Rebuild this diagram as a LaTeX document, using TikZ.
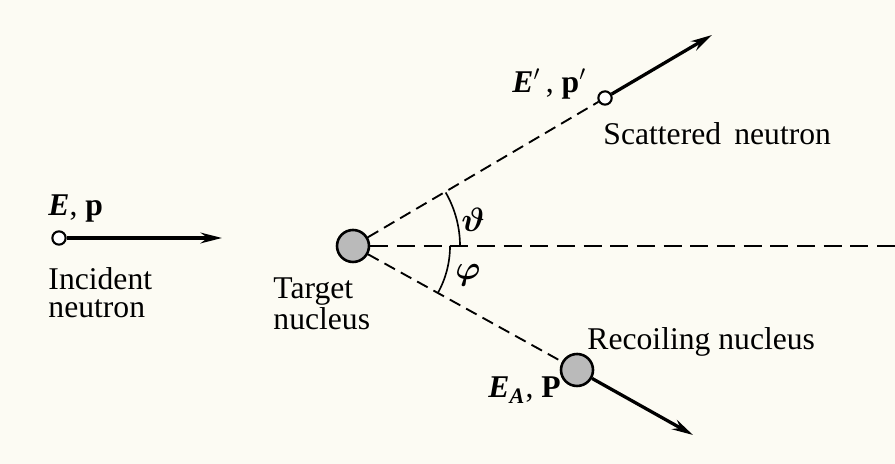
\documentclass[tikz,border=0pt]{standalone}
\usepackage{amsmath}
\usepackage{fontspec}
\setmainfont{Liberation Serif}
\usetikzlibrary{arrows.meta, positioning, calc}
\definecolor{paper}{RGB}{252,251,243}
\newcommand{\Ebf}{\textbf{\textit{E}}}

\begin{document}
\begin{tikzpicture}[x=0.015cm, y=0.015cm, >=Stealth,
    nucleus/.style={circle, draw, line width=1.1pt, fill=black!27,
                    minimum size=0.48cm, inner sep=0pt},
    neutron/.style={circle, draw, line width=0.9pt, fill=white,
                    minimum size=0.2cm, inner sep=0pt},
    track/.style={line width=1.4pt, -{Stealth[length=0.32cm, width=0.16cm]}},
    flight/.style={line width=0.8pt, dash pattern=on 0.18cm off 0.1cm},
    axisline/.style={line width=0.9pt, dash pattern=on 0.27cm off 0.13cm},
    lbl/.style={inner sep=0pt, font=\fontsize{13.5}{12}\selectfont}]
  \fill[paper] (0,0) rectangle (895,464);
  \useasboundingbox (0,0) rectangle (895,464);
  % particles
  \node[neutron] (inc) at (59,226) {};
  \node[nucleus] (tgt) at (353,218) {};
  \node[neutron] (sct) at (605,366) {};
  \node[nucleus] (rec) at (577,94) {};
  \coordinate (incTip) at (222,226);
  \coordinate (sctTip) at (712,429);
  \coordinate (recTip) at (693,29);
  \coordinate (far) at (895,218);
  % flight lines
  \draw[flight] (tgt) -- (sct);
  \draw[flight] (tgt) -- (rec);
  \draw[axisline] (tgt) -- (far);
  % momenta
  \draw[track] (inc) -- (incTip);
  \draw[track] (sct) -- (sctTip);
  \draw[track] (rec) -- (recTip);
  % angles
  \draw[line width=0.7pt] (tgt.center) ++(0:107) arc[start angle=0, end angle=30, radius=107];
  \draw[line width=0.7pt] (tgt.center) ++(-29:97) arc[start angle=-29, end angle=0, radius=97];
  \node[lbl] (theta) at (473,244) {$\boldsymbol{\vartheta}$};
  \node[lbl] (phi) at (468,189) {$\boldsymbol{\varphi}$};
  % labels
  \node[lbl, anchor=base west] (incE) at (48,248) {\Ebf, \textbf{p}};
  \node[lbl, anchor=north west, align=left] (incTxt) at (48,197) {Incident\\neutron};
  \node[lbl, anchor=north west, align=left] (tgtTxt) at (273,187) {Target\\nucleus};
  \node[lbl, anchor=base west] (sctE) at (512,371) {\Ebf$'$\,, \textbf{p}$'$};
  \node[lbl, anchor=base west] (sctTxt) at (603,319) {Scattered\, neutron};
  \node[lbl, anchor=base west] (recTxt) at (587,114) {Recoiling nucleus};
  \node[lbl, anchor=base west] (recE) at (488,66) {\Ebf\textsubscript{\textbf{\textit{A}}}, \textbf{P}};
\end{tikzpicture}
\end{document}
